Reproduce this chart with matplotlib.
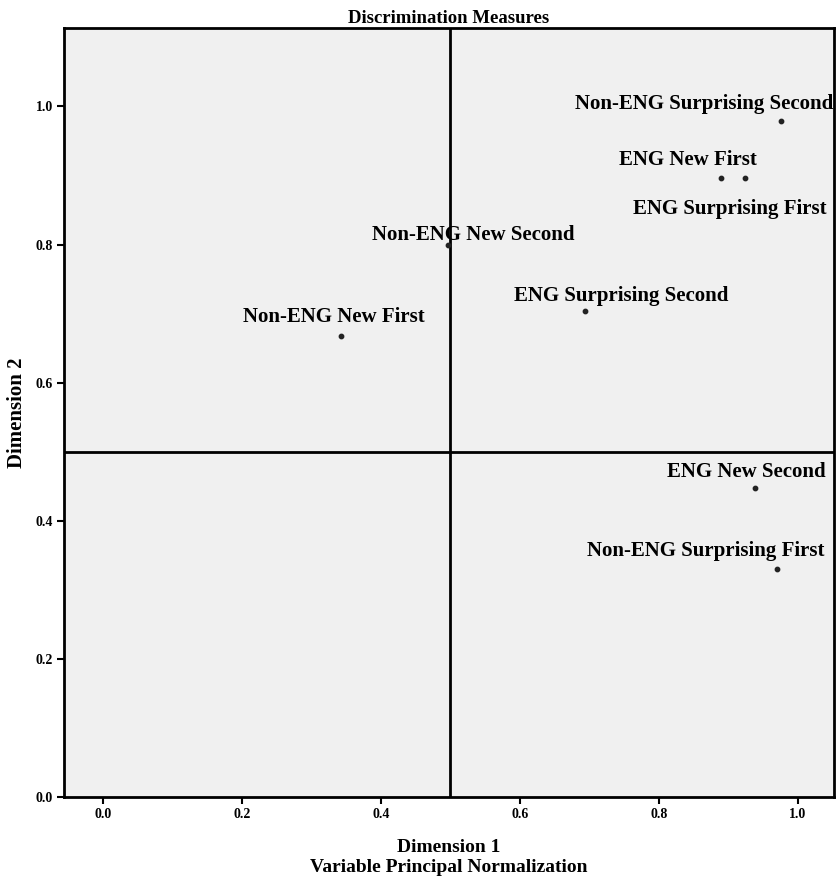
import matplotlib
matplotlib.use("Agg")
import matplotlib.pyplot as plt

# discrimination measures
labels = [
    "Non-ENG Surprising Second",
    "ENG New First",
    "ENG Surprising First",
    "Non-ENG New Second",
    "ENG Surprising Second",
    "Non-ENG New First",
    "ENG New Second",
    "Non-ENG Surprising First",
]
dim1 = [0.976, 0.889, 0.924, 0.497, 0.694, 0.342, 0.938, 0.970]
dim2 = [0.979, 0.897, 0.897, 0.799, 0.703, 0.667, 0.448, 0.330]

# label offsets in pixels (where the text sits relative to its point)
offsets = [(-77, 17), (-33, 18), (-15, -31), (25, 10),
           (36, 15), (-7, 19), (-8, 16), (-71, 18)]

ticks = [0.0, 0.2, 0.4, 0.6, 0.8, 1.0]

plt.rcParams['font.family'] = ['Liberation Serif', 'DejaVu Serif']
plt.rcParams['font.weight'] = 'bold'

fig = plt.figure(figsize=(8.36, 8.86), dpi=100)
ax = fig.add_axes([0.0766, 0.1005, 0.9210, 0.8675])
ax.set_facecolor('#f0f0f0')

ax.axvline(0.5, color='black', lw=2, zorder=1)
ax.axhline(0.5, color='black', lw=2, zorder=1)

ax.scatter(dim1, dim2, s=10, color='#222222', zorder=3)
for lab, x, y, (dx, dy) in zip(labels, dim1, dim2, offsets):
    ax.annotate(lab, (x, y), xytext=(dx, dy), textcoords='offset pixels',
                ha='center', va='center', fontsize=15, fontweight='bold',
                zorder=4)

ax.set_xlim(-0.056, 1.052)
ax.set_ylim(0.0, 1.113)
ax.set_xticks(ticks)
ax.set_yticks(ticks)
ax.set_xticklabels([f"{t:.1f}" for t in ticks])
ax.set_yticklabels([f"{t:.1f}" for t in ticks])
ax.tick_params(axis='both', length=5, width=1.5, labelsize=10, pad=3)
for sp in ax.spines.values():
    sp.set_linewidth(2)

ax.set_title("Discrimination Measures", fontsize=13.5, fontweight='bold', pad=4)
ax.set_xlabel("Dimension 1\nVariable Principal Normalization", fontsize=14,
              fontweight='bold', labelpad=13, linespacing=1.2)
ax.set_ylabel("Dimension 2", fontsize=15, fontweight='bold', labelpad=6)

fig.savefig("out.png", dpi=100)
